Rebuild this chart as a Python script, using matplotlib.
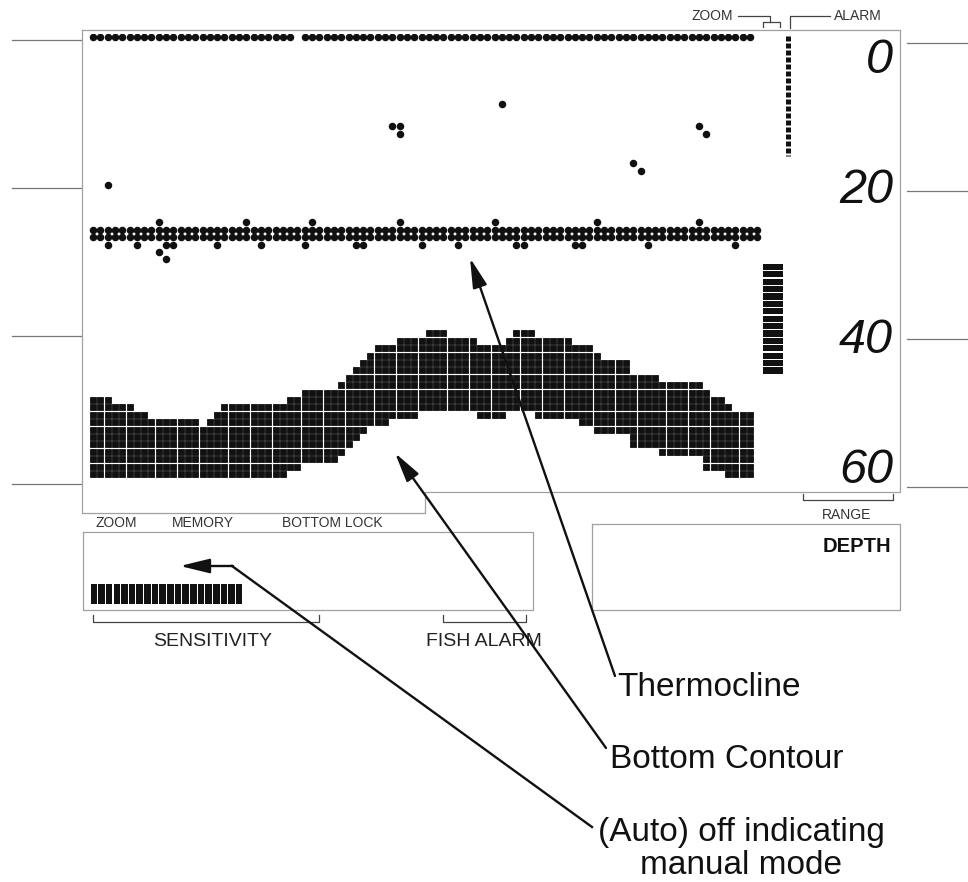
import matplotlib.pyplot as plt
import numpy as np

# ---- display contents (columns across the screen, depth in feet) ----
depth_ticks = [0, 20, 40, 60]
depth_labels = ["0", "20", "40", "60"]

surface_cols = list(range(0, 28)) + list(range(29, 91))
thermo_cols = list(range(0, 92))
thermo_rows = [26, 27]
thermo_extra_cols = [9, 21, 30, 42, 55, 69, 83,
                     2, 6, 10, 11, 17, 23, 29, 36, 37, 45, 50, 58, 59, 66, 67, 76, 88,
                     9, 10]
thermo_extra_depths = [25, 25, 25, 25, 25, 25, 25,
                       28, 28, 28, 28, 28, 28, 28, 28, 28, 28, 28, 28, 28, 28, 28, 28, 28,
                       29, 30]

fish_cols = [2, 41, 42, 42, 56, 74, 75, 83, 84]
fish_depths = [20, 12, 12, 13, 9, 17, 18, 12, 13]

bottom_top = ([49] * 3 + [50] * 3 + [51] * 2 + [52] * 7 + [53, 52, 51] + [50] * 9
              + [49] * 2 + [48] * 5 + [47, 46, 45, 44, 43] + [42] * 3 + [41] * 4
              + [40] * 3 + [41] * 4 + [42] * 4 + [41] + [40] * 3 + [41] * 5
              + [42] * 3 + [43] + [44] * 4 + [46] * 4 + [47] * 6 + [48] + [49] * 2
              + [50] + [51] * 3)
bottom_low = ([59] * 27 + [58] * 2 + [57] * 5 + [56, 55, 54, 53] + [52] * 3
              + [51] * 4 + [50] * 8 + [51] * 4 + [50] * 4 + [51] * 6 + [52] * 2
              + [53] * 5 + [55] * 4 + [56] * 6 + [58] * 3 + [59] * 4)

alarm_depth = 16
zoom_start, zoom_end = 31, 45
sensitivity_level = 20

# ---- figure in pixel space ----
W, H = 968, 882
fig = plt.figure(figsize=(W / 100, H / 100), dpi=100)
ax = fig.add_axes([0, 0, 1, 1], zorder=3)
ax.set_xlim(0, W)
ax.set_ylim(H, 0)
ax.axis("off")
ax.patch.set_alpha(0)

# LCD dot-matrix axes: column / depth units
x0, dx, y0, dy = 93, 7.3, 37.5, 7.4
xl, xr = -0.5, 110.5
yt, yb = -0.5, 60.5
left_px, right_px = x0 + xl * dx, x0 + xr * dx
top_px, bot_px = y0 + yt * dy, y0 + yb * dy
lcd = fig.add_axes([left_px / W, 1 - bot_px / H, (right_px - left_px) / W,
                    (bot_px - top_px) / H], zorder=1)
lcd.set_xlim(xl, xr)
lcd.set_ylim(yb, yt)
lcd.axis("off")

dot = dict(marker="o", ms=4.4, color="#111111", ls="none")
lcd.plot(surface_cols, [0] * len(surface_cols), **dot)
for r in thermo_rows:
    lcd.plot(thermo_cols, [r] * len(thermo_cols), **dot)
lcd.plot(thermo_extra_cols, thermo_extra_depths, **dot)
lcd.plot(fish_cols, fish_depths, **dot)

cx, cy = [], []
for c, (t, b) in enumerate(zip(bottom_top, bottom_low)):
    for d in range(t, b + 1):
        cx.append(c)
        cy.append(d)
lcd.plot(cx, cy, marker="s", ms=4.5, mew=0.6, color="#111111", ls="none")

# alarm marker column and zoom window bar
lcd.plot([95.2, 95.2], [-0.2, alarm_depth], color="#111111", lw=3.6,
         dashes=(1.0, 0.4), solid_capstyle="butt")
zoom_rows = list(range(zoom_start, zoom_end + 1))
lcd.barh(zoom_rows, 2.7, left=91.8, height=0.84, color="#111111")

# depth scale digits and leader lines
label_base = [4.8, 22.4, 42.6, 60.2]
for lab, yb_ in zip(depth_labels, label_base):
    lcd.text(109.6, yb_, lab, ha="right", va="baseline", fontsize=35,
             style="italic", family="Liberation Sans", color="#111111")
for d in depth_ticks:
    lcd.plot([-11.1, -1.6], [d + 0.3, d + 0.3], color="#777777", lw=0.9, clip_on=False)
    lcd.plot([111.5, 120], [d + 0.8, d + 0.8], color="#777777", lw=0.9, clip_on=False)

# ---- frames and small labels ----
gray = "#a0a0a0"
ax.plot([82, 900, 900, 425, 425, 82, 82], [30, 30, 492, 492, 513, 513, 30],
        color=gray, lw=0.9)
ax.plot([83, 533, 533, 83, 83], [532, 532, 610, 610, 532], color=gray, lw=0.9)
ax.plot([592, 900, 900, 592, 592], [524, 524, 610, 610, 524], color=gray, lw=0.9)

small = dict(fontsize=10, family="Liberation Sans", color="#333333", va="center")
ax.text(712, 16, "ZOOM", ha="center", **small)
ax.text(858, 16, "ALARM", ha="center", **small)
ax.plot([738, 770, 770], [16, 16, 22], color="#444444", lw=0.9)
ax.plot([763, 763, 780, 780], [27, 22, 22, 27], color="#444444", lw=0.9)
ax.plot([830, 790, 790], [16, 16, 28], color="#444444", lw=0.9)

ax.text(116, 523, "ZOOM", ha="center", **small)
ax.text(203, 523, "MEMORY", ha="center", **small)
ax.text(332, 523, "BOTTOM LOCK", ha="center", **small)
ax.text(847, 515, "RANGE", ha="center", **small)
ax.plot([803, 803, 893, 893], [494, 500, 500, 494], color="#444444", lw=0.9)

ax.text(891, 547, "DEPTH", ha="right", va="center", fontsize=14.5,
        fontweight="bold", family="Liberation Sans", color="#111111")

mid = dict(fontsize=14, family="Liberation Sans", color="#222222", va="center")
ax.plot([93, 93, 319, 319], [615, 622, 622, 615], color="#444444", lw=0.9)
ax.plot([443, 443, 526, 526], [615, 622, 622, 615], color="#444444", lw=0.9)
ax.text(213, 641, "SENSITIVITY", ha="center", **mid)
ax.text(484, 641, "FISH ALARM", ha="center", **mid)

# sensitivity bar segments
seg = 7.65
segs = np.arange(sensitivity_level)
ax.bar(90 + seg * (segs + 0.5), 20, width=seg - 1.1, bottom=584, color="#111111")

# ---- callouts ----
big = dict(fontsize=24, family="Liberation Sans", color="#111111", va="center")
head = dict(arrowstyle="-|>,head_length=0.9,head_width=0.22", lw=1.7, color="#111111",
            shrinkA=0, shrinkB=0, mutation_scale=20)
ax.annotate("", xy=(470, 258), xytext=(615, 676), arrowprops=head)
ax.text(617, 687, "Thermocline", ha="left", **big)
ax.annotate("", xy=(395, 453), xytext=(606, 748), arrowprops=head)
ax.text(610, 760, "Bottom Contour", ha="left", **big)
ax.plot([592, 232], [827, 566], color="#111111", lw=1.7)
ax.annotate("", xy=(180, 566), xytext=(233, 566), arrowprops=head)
ax.text(741, 833, "(Auto) off indicating", ha="center", **big)
ax.text(741, 865, "manual mode", ha="center", **big)

fig.savefig("out.png", dpi=100, facecolor="white")
